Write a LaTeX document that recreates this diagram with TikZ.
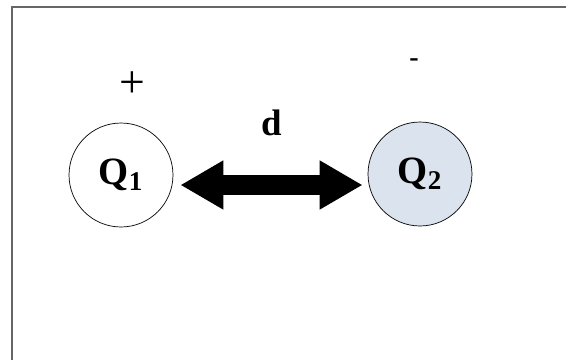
\documentclass[tikz,border=0pt]{standalone}
\usepackage{fontspec}
\setmainfont{Liberation Serif}
\usetikzlibrary{arrows.meta}
\definecolor{chargeblue}{RGB}{218,227,238}
\tikzset{
  charge/.style={draw, circle, thin, minimum size=2.08cm, inner sep=0pt, font=\fontsize{22}{26}\selectfont\bfseries},
  bigarrow/.style={line width=0.4cm, {Triangle[length=0.86cm,width=0.92cm]}-{Triangle[length=0.86cm,width=0.92cm]}}
}
\begin{document}
\begin{tikzpicture}[x=0.02cm,y=0.02cm]
            \useasboundingbox (0,0) rectangle (566,360);
            \draw[gray!80!black, line width=0.7pt] (566,353) -- (12,353) -- (12,0);
            \node[charge] (q1) at (121,185) {Q\textsubscript{1}};
            \node[charge, fill=chargeblue] (q2) at (420,186) {Q\textsubscript{2}};
            \draw[bigarrow] ([shift={(7,-10)}]q1.east) -- ([shift={(-5,-11)}]q2.west);
            \node[font=\fontsize{21}{24}\selectfont\bfseries] (d) at (272,237) {d};
            \node[font=\fontsize{26}{30}\selectfont] (plus) at (132,275) {+};
            \node[font=\fontsize{16}{20}\selectfont\bfseries] (minus) at (414,297) {-};
        \end{tikzpicture}
\end{document}
